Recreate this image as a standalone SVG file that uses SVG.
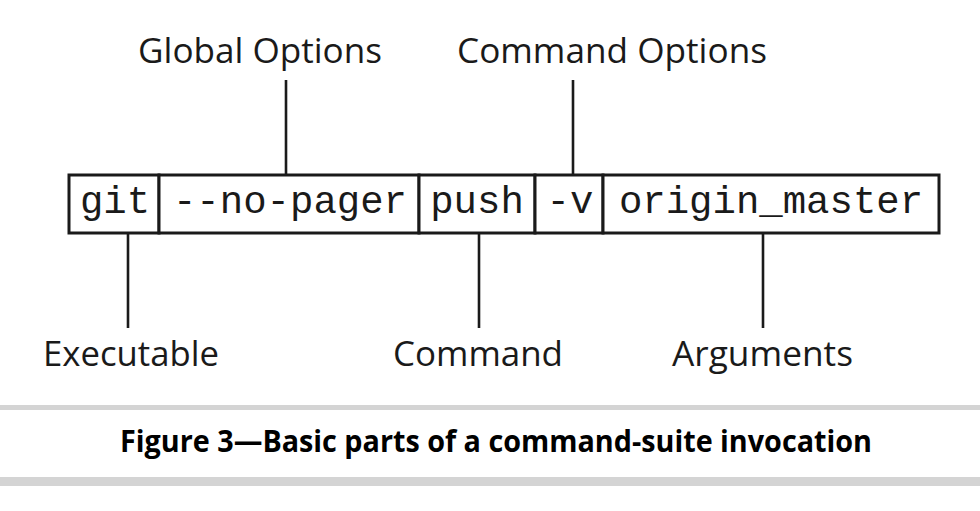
<svg xmlns="http://www.w3.org/2000/svg" width="980" height="511" viewBox="0 0 980 511">
<style>
.lbl{font-family:"Open Sans","Noto Sans","Liberation Sans",sans-serif;font-size:35px;fill:#1a1a1a}
.mono{font-family:"Liberation Mono","Courier New",monospace;font-size:39px;fill:#1a1a1a;text-anchor:middle}
.cell{fill:#ffffff;stroke:#1a1a1a;stroke-width:3}
.lead{stroke:#1a1a1a;stroke-width:2.6;fill:none}
.bar{fill:#d4d4d4}
.cap{font-family:"Open Sans","Noto Sans","Liberation Sans",sans-serif;font-size:30px;font-weight:bold;fill:#000}
</style>
<rect width="980" height="511" fill="#ffffff"/>
<g id="connectors">
<line class="lead" x1="286" y1="80" x2="286" y2="174"/>
<line class="lead" x1="573" y1="80" x2="573" y2="174"/>
<line class="lead" x1="128" y1="233" x2="128" y2="328"/>
<line class="lead" x1="479" y1="233" x2="479" y2="328"/>
<line class="lead" x1="763" y1="233" x2="763" y2="328"/>
</g>
<g id="cell-git"><rect class="cell" x="69" y="175" width="90" height="58"/><text class="mono" x="115" y="213">git</text></g>
<g id="cell-nopager"><rect class="cell" x="159" y="175" width="260" height="58"/><text class="mono" x="290" y="213">--no-pager</text></g>
<g id="cell-push"><rect class="cell" x="419" y="175" width="116" height="58"/><text class="mono" x="477" y="213">push</text></g>
<g id="cell-v"><rect class="cell" x="535" y="175" width="68" height="58"/><text class="mono" x="570" y="213">-v</text></g>
<g id="cell-args"><rect class="cell" x="603" y="175" width="336" height="58"/><text class="mono" x="771" y="213">origin_master</text></g>
<g id="label-global"><text class="lbl" x="138" y="63" textLength="244" lengthAdjust="spacingAndGlyphs">Global Options</text></g>
<g id="label-cmdopts"><text class="lbl" x="457" y="63" textLength="310" lengthAdjust="spacingAndGlyphs">Command Options</text></g>
<g id="label-exec"><text class="lbl" x="43" y="366" textLength="176" lengthAdjust="spacingAndGlyphs">Executable</text></g>
<g id="label-command"><text class="lbl" x="393" y="366" textLength="170" lengthAdjust="spacingAndGlyphs">Command</text></g>
<g id="label-args"><text class="lbl" x="672" y="366" textLength="181" lengthAdjust="spacingAndGlyphs">Arguments</text></g>
<g id="caption">
<rect class="bar" x="0" y="405" width="980" height="5"/>
<text class="cap" x="120" y="452" textLength="752" lengthAdjust="spacingAndGlyphs">Figure 3—Basic parts of a command-suite invocation</text>
<rect class="bar" x="0" y="477" width="980" height="9"/>
</g>
</svg>
